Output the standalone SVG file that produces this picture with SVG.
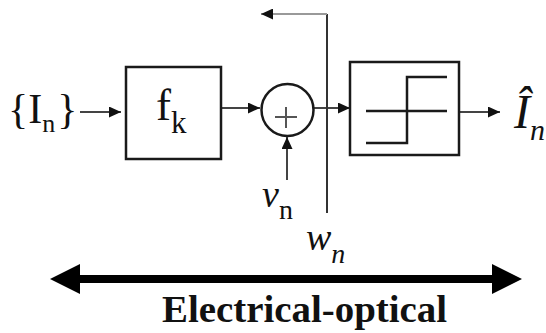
<svg xmlns="http://www.w3.org/2000/svg" width="546" height="333" viewBox="0 0 546 333">
<style>
.box{fill:none;stroke:#1a1a1a;stroke-width:2.5}
.ln{fill:none;stroke:#444;stroke-width:2}
.t{font-family:"Liberation Serif","Times New Roman",serif;fill:#111}
.i{font-style:italic}
</style>
<defs>
<marker id="ah" markerUnits="userSpaceOnUse" markerWidth="13" markerHeight="11" refX="12" refY="5.5" orient="auto">
<path d="M0,0 L12,5.5 L0,11 z" fill="#111"/>
</marker>
</defs>
<rect width="546" height="333" fill="#fff"/>
<g id="connectors">
<line class="ln" x1="80" y1="112" x2="121" y2="112" marker-end="url(#ah)"/>
<line class="ln" x1="221" y1="108" x2="260" y2="108" marker-end="url(#ah)"/>
<line class="ln" x1="313" y1="108" x2="350" y2="108" marker-end="url(#ah)"/>
<line class="ln" x1="459" y1="112" x2="500" y2="112" marker-end="url(#ah)"/>
<line class="ln" x1="287" y1="180" x2="287" y2="137" stroke="#777" marker-end="url(#ah)"/>
<line x1="327" y1="14" x2="327" y2="213" stroke="#333" stroke-width="2"/>
<line x1="327" y1="14" x2="261" y2="14" stroke="#999" stroke-width="2" marker-end="url(#ah)"/>
<line x1="76" y1="279" x2="496" y2="279" stroke="#000" stroke-width="8"/>
<polygon points="50,279 80,264 80,294" fill="#000"/>
<polygon points="522,279 492,264 492,294" fill="#000"/>
</g>
<g id="input">
<text class="t" x="8" y="123" font-size="42">{I<tspan font-size="26" dy="9">n</tspan><tspan dy="-9" dx="2">}</tspan></text>
</g>
<g id="fk">
<rect class="box" x="126" y="67" width="95" height="92"/>
<text class="t" x="156" y="120" font-size="45">f<tspan font-size="31" dy="13">k</tspan></text>
</g>
<g id="sum">
<circle cx="287.5" cy="110" r="26" fill="#fff" stroke="#1a1a1a" stroke-width="2.5"/>
<path d="M275,117 H297 M286,107 V128" stroke="#555" stroke-width="2" fill="none"/>
</g>
<g id="quantizer">
<rect class="box" x="350" y="62" width="109" height="93"/>
<path d="M366,143 H407 V77 H447 M366,111 H447" fill="none" stroke="#1a1a1a" stroke-width="2.5"/>
</g>
<g id="output">
<text class="t i" x="514" y="128" font-size="48">Î<tspan font-size="30" dy="12">n</tspan></text>
</g>
<g id="vn">
<text class="t" x="262" y="207" font-size="38"><tspan class="i">v</tspan><tspan font-size="28" dy="12">n</tspan></text>
</g>
<g id="wn">
<text class="t i" x="306" y="250" font-size="38">w<tspan font-size="28" dy="13">n</tspan></text>
</g>
<g id="label">
<text class="t" x="162" y="322" font-size="38" font-weight="bold" textLength="285" lengthAdjust="spacingAndGlyphs">Electrical-optical</text>
</g>
</svg>
